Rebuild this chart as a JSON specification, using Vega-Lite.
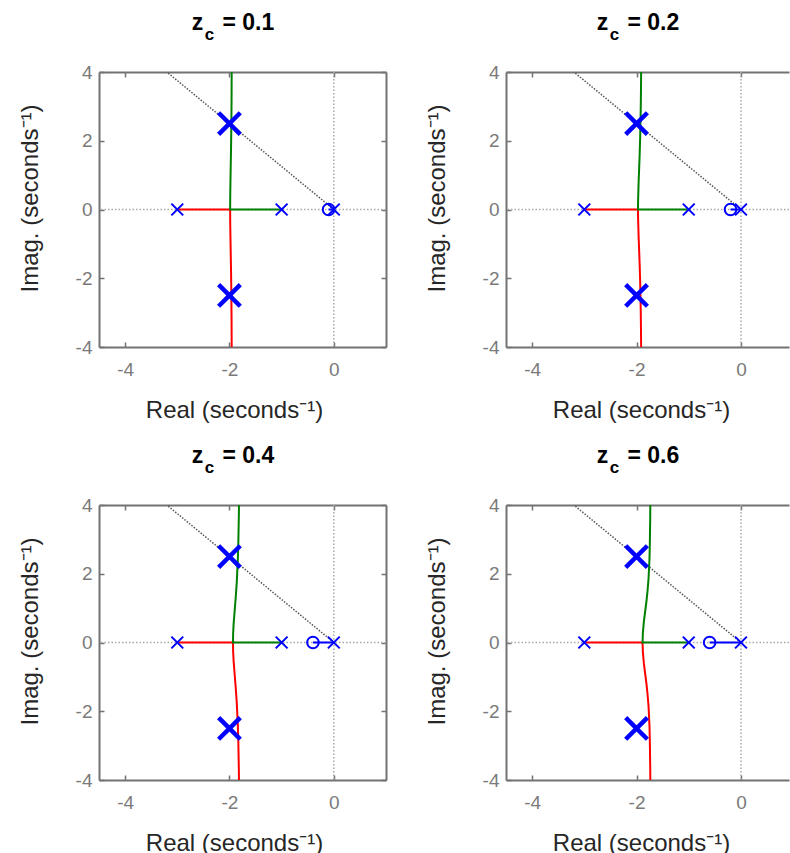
{
  "$schema": "https://vega.github.io/schema/vega-lite/v6.json",
  "padding": {"left": 18, "top": 12, "right": 0, "bottom": 0},
  "background": "white",
  "config": {
    "view": {"stroke": null},
    "font": "Liberation Sans",
    "axis": {
      "labelFont": "Liberation Sans", "labelFontSize": 19, "labelColor": "#7a7a7a",
      "titleFont": "Liberation Sans", "titleFontSize": 24, "titleFontWeight": "normal", "titleColor": "#262626",
      "domainColor": "#737373", "domainWidth": 2, "tickColor": "#737373", "tickWidth": 1.5, "tickSize": -5,
      "grid": false
    },
    "title": {
      "font": "Liberation Sans", "fontSize": 23, "fontWeight": "bold", "color": "#000000",
      "subtitleFont": "Liberation Sans", "subtitleFontSize": 17, "subtitleFontWeight": "bold", "subtitleColor": "#000000",
      "subtitlePadding": -8, "offset": 20, "dx": -9.5
    }
  },
  "datasets": {
    "zero": [{"v": 0}],
    "zeta": [{"o": 0, "x": 0, "y": 0}, {"o": 1, "x": -3.2, "y": 4}],
    "locus": [
      {"p": "0.1", "s": "b3", "o": 0, "x": -3, "y": 0},
      {"p": "0.1", "s": "b3", "o": 1, "x": -1.987, "y": 0},
      {"p": "0.1", "s": "b3", "o": 2, "x": -1.985, "y": -0.42},
      {"p": "0.1", "s": "b3", "o": 3, "x": -1.98, "y": -0.9},
      {"p": "0.1", "s": "b3", "o": 4, "x": -1.97, "y": -1.74},
      {"p": "0.1", "s": "b3", "o": 5, "x": -1.965, "y": -2.29},
      {"p": "0.1", "s": "b3", "o": 6, "x": -1.96, "y": -3.1},
      {"p": "0.1", "s": "b3", "o": 7, "x": -1.955, "y": -4.76},
      {"p": "0.1", "s": "b1", "o": 0, "x": -1, "y": 0},
      {"p": "0.1", "s": "b1", "o": 1, "x": -1.987, "y": 0},
      {"p": "0.1", "s": "b1", "o": 2, "x": -1.985, "y": 0.42},
      {"p": "0.1", "s": "b1", "o": 3, "x": -1.98, "y": 0.9},
      {"p": "0.1", "s": "b1", "o": 4, "x": -1.97, "y": 1.74},
      {"p": "0.1", "s": "b1", "o": 5, "x": -1.965, "y": 2.29},
      {"p": "0.1", "s": "b1", "o": 6, "x": -1.96, "y": 3.1},
      {"p": "0.1", "s": "b1", "o": 7, "x": -1.955, "y": 4.76},
      {"p": "0.1", "s": "b0", "o": 0, "x": 0, "y": 0},
      {"p": "0.1", "s": "b0", "o": 1, "x": -0.1, "y": 0},

      {"p": "0.2", "s": "b3", "o": 0, "x": -3, "y": 0},
      {"p": "0.2", "s": "b3", "o": 1, "x": -1.972, "y": 0},
      {"p": "0.2", "s": "b3", "o": 2, "x": -1.97, "y": -0.26},
      {"p": "0.2", "s": "b3", "o": 3, "x": -1.96, "y": -0.8},
      {"p": "0.2", "s": "b3", "o": 4, "x": -1.95, "y": -1.19},
      {"p": "0.2", "s": "b3", "o": 5, "x": -1.94, "y": -1.6},
      {"p": "0.2", "s": "b3", "o": 6, "x": -1.93, "y": -2.12},
      {"p": "0.2", "s": "b3", "o": 7, "x": -1.92, "y": -2.87},
      {"p": "0.2", "s": "b3", "o": 8, "x": -1.915, "y": -3.46},
      {"p": "0.2", "s": "b3", "o": 9, "x": -1.91, "y": -4.41},
      {"p": "0.2", "s": "b1", "o": 0, "x": -1, "y": 0},
      {"p": "0.2", "s": "b1", "o": 1, "x": -1.972, "y": 0},
      {"p": "0.2", "s": "b1", "o": 2, "x": -1.97, "y": 0.26},
      {"p": "0.2", "s": "b1", "o": 3, "x": -1.96, "y": 0.8},
      {"p": "0.2", "s": "b1", "o": 4, "x": -1.95, "y": 1.19},
      {"p": "0.2", "s": "b1", "o": 5, "x": -1.94, "y": 1.6},
      {"p": "0.2", "s": "b1", "o": 6, "x": -1.93, "y": 2.12},
      {"p": "0.2", "s": "b1", "o": 7, "x": -1.92, "y": 2.87},
      {"p": "0.2", "s": "b1", "o": 8, "x": -1.915, "y": 3.46},
      {"p": "0.2", "s": "b1", "o": 9, "x": -1.91, "y": 4.41},
      {"p": "0.2", "s": "b0", "o": 0, "x": 0, "y": 0},
      {"p": "0.2", "s": "b0", "o": 1, "x": -0.2, "y": 0},

      {"p": "0.4", "s": "b3", "o": 0, "x": -3, "y": 0},
      {"p": "0.4", "s": "b3", "o": 1, "x": -1.932, "y": 0},
      {"p": "0.4", "s": "b3", "o": 2, "x": -1.93, "y": -0.24},
      {"p": "0.4", "s": "b3", "o": 3, "x": -1.92, "y": -0.54},
      {"p": "0.4", "s": "b3", "o": 4, "x": -1.9, "y": -0.93},
      {"p": "0.4", "s": "b3", "o": 5, "x": -1.88, "y": -1.31},
      {"p": "0.4", "s": "b3", "o": 6, "x": -1.86, "y": -1.75},
      {"p": "0.4", "s": "b3", "o": 7, "x": -1.84, "y": -2.39},
      {"p": "0.4", "s": "b3", "o": 8, "x": -1.83, "y": -2.89},
      {"p": "0.4", "s": "b3", "o": 9, "x": -1.82, "y": -3.69},
      {"p": "0.4", "s": "b3", "o": 10, "x": -1.815, "y": -4.34},
      {"p": "0.4", "s": "b1", "o": 0, "x": -1, "y": 0},
      {"p": "0.4", "s": "b1", "o": 1, "x": -1.932, "y": 0},
      {"p": "0.4", "s": "b1", "o": 2, "x": -1.93, "y": 0.24},
      {"p": "0.4", "s": "b1", "o": 3, "x": -1.92, "y": 0.54},
      {"p": "0.4", "s": "b1", "o": 4, "x": -1.9, "y": 0.93},
      {"p": "0.4", "s": "b1", "o": 5, "x": -1.88, "y": 1.31},
      {"p": "0.4", "s": "b1", "o": 6, "x": -1.86, "y": 1.75},
      {"p": "0.4", "s": "b1", "o": 7, "x": -1.84, "y": 2.39},
      {"p": "0.4", "s": "b1", "o": 8, "x": -1.83, "y": 2.89},
      {"p": "0.4", "s": "b1", "o": 9, "x": -1.82, "y": 3.69},
      {"p": "0.4", "s": "b1", "o": 10, "x": -1.815, "y": 4.34},
      {"p": "0.4", "s": "b0", "o": 0, "x": 0, "y": 0},
      {"p": "0.4", "s": "b0", "o": 1, "x": -0.4, "y": 0},

      {"p": "0.6", "s": "b3", "o": 0, "x": -3, "y": 0},
      {"p": "0.6", "s": "b3", "o": 1, "x": -1.885, "y": 0},
      {"p": "0.6", "s": "b3", "o": 2, "x": -1.878, "y": -0.29},
      {"p": "0.6", "s": "b3", "o": 3, "x": -1.86, "y": -0.6},
      {"p": "0.6", "s": "b3", "o": 4, "x": -1.83, "y": -0.96},
      {"p": "0.6", "s": "b3", "o": 5, "x": -1.81, "y": -1.2},
      {"p": "0.6", "s": "b3", "o": 6, "x": -1.79, "y": -1.49},
      {"p": "0.6", "s": "b3", "o": 7, "x": -1.77, "y": -1.86},
      {"p": "0.6", "s": "b3", "o": 8, "x": -1.752, "y": -2.43},
      {"p": "0.6", "s": "b3", "o": 9, "x": -1.745, "y": -2.89},
      {"p": "0.6", "s": "b3", "o": 10, "x": -1.738, "y": -3.63},
      {"p": "0.6", "s": "b3", "o": 11, "x": -1.735, "y": -4.24},
      {"p": "0.6", "s": "b1", "o": 0, "x": -1, "y": 0},
      {"p": "0.6", "s": "b1", "o": 1, "x": -1.885, "y": 0},
      {"p": "0.6", "s": "b1", "o": 2, "x": -1.878, "y": 0.29},
      {"p": "0.6", "s": "b1", "o": 3, "x": -1.86, "y": 0.6},
      {"p": "0.6", "s": "b1", "o": 4, "x": -1.83, "y": 0.96},
      {"p": "0.6", "s": "b1", "o": 5, "x": -1.81, "y": 1.2},
      {"p": "0.6", "s": "b1", "o": 6, "x": -1.79, "y": 1.49},
      {"p": "0.6", "s": "b1", "o": 7, "x": -1.77, "y": 1.86},
      {"p": "0.6", "s": "b1", "o": 8, "x": -1.752, "y": 2.43},
      {"p": "0.6", "s": "b1", "o": 9, "x": -1.745, "y": 2.89},
      {"p": "0.6", "s": "b1", "o": 10, "x": -1.738, "y": 3.63},
      {"p": "0.6", "s": "b1", "o": 11, "x": -1.735, "y": 4.24},
      {"p": "0.6", "s": "b0", "o": 0, "x": 0, "y": 0},
      {"p": "0.6", "s": "b0", "o": 1, "x": -0.6, "y": 0}
    ],
    "marks": [
      {"p": "0.1", "k": "pole", "x": -3, "y": 0}, {"p": "0.1", "k": "pole", "x": -1, "y": 0}, {"p": "0.1", "k": "pole", "x": 0, "y": 0},
      {"p": "0.1", "k": "target", "x": -2, "y": 2.5}, {"p": "0.1", "k": "target", "x": -2, "y": -2.5}, {"p": "0.1", "k": "zero", "x": -0.1, "y": 0},
      {"p": "0.2", "k": "pole", "x": -3, "y": 0}, {"p": "0.2", "k": "pole", "x": -1, "y": 0}, {"p": "0.2", "k": "pole", "x": 0, "y": 0},
      {"p": "0.2", "k": "target", "x": -2, "y": 2.5}, {"p": "0.2", "k": "target", "x": -2, "y": -2.5}, {"p": "0.2", "k": "zero", "x": -0.2, "y": 0},
      {"p": "0.4", "k": "pole", "x": -3, "y": 0}, {"p": "0.4", "k": "pole", "x": -1, "y": 0}, {"p": "0.4", "k": "pole", "x": 0, "y": 0},
      {"p": "0.4", "k": "target", "x": -2, "y": 2.5}, {"p": "0.4", "k": "target", "x": -2, "y": -2.5}, {"p": "0.4", "k": "zero", "x": -0.4, "y": 0},
      {"p": "0.6", "k": "pole", "x": -3, "y": 0}, {"p": "0.6", "k": "pole", "x": -1, "y": 0}, {"p": "0.6", "k": "pole", "x": 0, "y": 0},
      {"p": "0.6", "k": "target", "x": -2, "y": 2.5}, {"p": "0.6", "k": "target", "x": -2, "y": -2.5}, {"p": "0.6", "k": "zero", "x": -0.6, "y": 0}
    ]
  },
  "columns": 2,
  "spacing": {"row": 158, "column": 120},
  "bounds": "flush",
  "concat": [
    {
      "width": 287, "height": 275,
      "title": {"text": "z\u00a0\u00a0\u00a0= 0.1", "subtitle": "c\u00a0\u00a0\u00a0\u00a0\u00a0\u00a0\u00a0\u00a0\u00a0\u00a0\u200b"},
      "resolve": {"axis": {"x": "independent", "y": "independent"}},
      "layer": [
        {"data": {"name": "zero"}, "mark": {"type": "rule", "strokeDash": [1.5, 2], "color": "#a8a8a8", "strokeWidth": 1.5},
         "encoding": {"x": {"field": "v", "type": "quantitative", "scale": {"domain": [-4.5, 1], "nice": false, "zero": false},
           "axis": {"orient": "bottom", "values": [-4, -2, 0], "labelExpr": "'' + datum.value", "labelPadding": 18, "title": "Real (seconds\u207b\u00b9)", "titlePadding": 19, "titleX": 135}}}},
        {"data": {"name": "zero"}, "mark": {"type": "rule", "strokeDash": [1.5, 2], "color": "#a8a8a8", "strokeWidth": 1.5},
         "encoding": {"y": {"field": "v", "type": "quantitative", "scale": {"domain": [-4, 4], "nice": false, "zero": false},
           "axis": {"orient": "left", "values": [-4, -2, 0, 2, 4], "labelExpr": "'' + datum.value", "labelPadding": 12, "title": "Imag. (seconds\u207b\u00b9)", "titlePadding": 33, "titleY": 126}}}},
        {"data": {"name": "zeta"}, "mark": {"type": "line", "strokeDash": [1.5, 1.5], "color": "#555555", "strokeWidth": 1.5, "clip": true},
         "encoding": {"x": {"field": "x", "type": "quantitative", "axis": {"orient": "top", "values": [-4, -2, 0], "labels": false, "title": null}},
           "y": {"field": "y", "type": "quantitative", "axis": {"orient": "right", "values": [-4, -2, 0, 2, 4], "labels": false, "title": null}},
           "order": {"field": "o", "type": "quantitative"}}},
        {"data": {"name": "locus"}, "transform": [{"filter": "datum.p == '0.1'"}], "mark": {"type": "line", "strokeWidth": 2, "clip": true},
         "encoding": {"x": {"field": "x", "type": "quantitative", "axis": null}, "y": {"field": "y", "type": "quantitative", "axis": null},
           "color": {"field": "s", "type": "nominal", "scale": {"domain": ["b3", "b1", "b0"], "range": ["#ff0000", "#008000", "#0000ff"]}, "legend": null},
           "order": {"field": "o", "type": "quantitative"}}},
        {"data": {"name": "marks"}, "transform": [{"filter": "datum.p == '0.1' && datum.k == 'pole'"}],
         "mark": {"type": "point", "shape": "M-1,-1L1,1M-1,1L1,-1", "filled": false, "color": "#0000ff", "strokeWidth": 2, "size": 140, "opacity": 1},
         "encoding": {"x": {"field": "x", "type": "quantitative", "axis": null}, "y": {"field": "y", "type": "quantitative", "axis": null}}},
        {"data": {"name": "marks"}, "transform": [{"filter": "datum.p == '0.1' && datum.k == 'target'"}],
         "mark": {"type": "point", "shape": "M-1,-1L1,1M-1,1L1,-1", "filled": false, "color": "#0000ff", "strokeWidth": 4.5, "size": 470, "opacity": 1},
         "encoding": {"x": {"field": "x", "type": "quantitative", "axis": null}, "y": {"field": "y", "type": "quantitative", "axis": null}}},
        {"data": {"name": "marks"}, "transform": [{"filter": "datum.p == '0.1' && datum.k == 'zero'"}],
         "mark": {"type": "point", "shape": "circle", "filled": false, "color": "#0000ff", "strokeWidth": 2, "size": 135, "opacity": 1},
         "encoding": {"x": {"field": "x", "type": "quantitative", "axis": null}, "y": {"field": "y", "type": "quantitative", "axis": null}}}
      ]
    },
    {
      "width": 283, "height": 275,
      "title": {"text": "z\u00a0\u00a0\u00a0= 0.2", "subtitle": "c\u00a0\u00a0\u00a0\u00a0\u00a0\u00a0\u00a0\u00a0\u00a0\u00a0\u200b"},
      "resolve": {"axis": {"x": "independent", "y": "independent"}},
      "layer": [
        {"data": {"name": "zero"}, "mark": {"type": "rule", "strokeDash": [1.5, 2], "color": "#a8a8a8", "strokeWidth": 1.5},
         "encoding": {"x": {"field": "v", "type": "quantitative", "scale": {"domain": [-4.5, 0.92], "nice": false, "zero": false},
           "axis": {"orient": "bottom", "values": [-4, -2, 0], "labelExpr": "'' + datum.value", "labelPadding": 18, "title": "Real (seconds\u207b\u00b9)", "titlePadding": 19, "titleX": 135}}}},
        {"data": {"name": "zero"}, "mark": {"type": "rule", "strokeDash": [1.5, 2], "color": "#a8a8a8", "strokeWidth": 1.5},
         "encoding": {"y": {"field": "v", "type": "quantitative", "scale": {"domain": [-4, 4], "nice": false, "zero": false},
           "axis": {"orient": "left", "values": [-4, -2, 0, 2, 4], "labelExpr": "'' + datum.value", "labelPadding": 12, "title": "Imag. (seconds\u207b\u00b9)", "titlePadding": 33, "titleY": 126}}}},
        {"data": {"name": "zeta"}, "mark": {"type": "line", "strokeDash": [1.5, 1.5], "color": "#555555", "strokeWidth": 1.5, "clip": true},
         "encoding": {"x": {"field": "x", "type": "quantitative", "axis": {"orient": "top", "values": [-4, -2, 0], "labels": false, "title": null}},
           "y": {"field": "y", "type": "quantitative", "axis": null},
           "order": {"field": "o", "type": "quantitative"}}},
        {"data": {"name": "locus"}, "transform": [{"filter": "datum.p == '0.2'"}], "mark": {"type": "line", "strokeWidth": 2, "clip": true},
         "encoding": {"x": {"field": "x", "type": "quantitative", "axis": null}, "y": {"field": "y", "type": "quantitative", "axis": null},
           "color": {"field": "s", "type": "nominal", "scale": {"domain": ["b3", "b1", "b0"], "range": ["#ff0000", "#008000", "#0000ff"]}, "legend": null},
           "order": {"field": "o", "type": "quantitative"}}},
        {"data": {"name": "marks"}, "transform": [{"filter": "datum.p == '0.2' && datum.k == 'pole'"}],
         "mark": {"type": "point", "shape": "M-1,-1L1,1M-1,1L1,-1", "filled": false, "color": "#0000ff", "strokeWidth": 2, "size": 140, "opacity": 1},
         "encoding": {"x": {"field": "x", "type": "quantitative", "axis": null}, "y": {"field": "y", "type": "quantitative", "axis": null}}},
        {"data": {"name": "marks"}, "transform": [{"filter": "datum.p == '0.2' && datum.k == 'target'"}],
         "mark": {"type": "point", "shape": "M-1,-1L1,1M-1,1L1,-1", "filled": false, "color": "#0000ff", "strokeWidth": 4.5, "size": 470, "opacity": 1},
         "encoding": {"x": {"field": "x", "type": "quantitative", "axis": null}, "y": {"field": "y", "type": "quantitative", "axis": null}}},
        {"data": {"name": "marks"}, "transform": [{"filter": "datum.p == '0.2' && datum.k == 'zero'"}],
         "mark": {"type": "point", "shape": "circle", "filled": false, "color": "#0000ff", "strokeWidth": 2, "size": 135, "opacity": 1},
         "encoding": {"x": {"field": "x", "type": "quantitative", "axis": null}, "y": {"field": "y", "type": "quantitative", "axis": null}}}
      ]
    },
    {
      "width": 287, "height": 275,
      "title": {"text": "z\u00a0\u00a0\u00a0= 0.4", "subtitle": "c\u00a0\u00a0\u00a0\u00a0\u00a0\u00a0\u00a0\u00a0\u00a0\u00a0\u200b"},
      "resolve": {"axis": {"x": "independent", "y": "independent"}},
      "layer": [
        {"data": {"name": "zero"}, "mark": {"type": "rule", "strokeDash": [1.5, 2], "color": "#a8a8a8", "strokeWidth": 1.5},
         "encoding": {"x": {"field": "v", "type": "quantitative", "scale": {"domain": [-4.5, 1], "nice": false, "zero": false},
           "axis": {"orient": "bottom", "values": [-4, -2, 0], "labelExpr": "'' + datum.value", "labelPadding": 18, "title": "Real (seconds\u207b\u00b9)", "titlePadding": 19, "titleX": 135}}}},
        {"data": {"name": "zero"}, "mark": {"type": "rule", "strokeDash": [1.5, 2], "color": "#a8a8a8", "strokeWidth": 1.5},
         "encoding": {"y": {"field": "v", "type": "quantitative", "scale": {"domain": [-4, 4], "nice": false, "zero": false},
           "axis": {"orient": "left", "values": [-4, -2, 0, 2, 4], "labelExpr": "'' + datum.value", "labelPadding": 12, "title": "Imag. (seconds\u207b\u00b9)", "titlePadding": 33, "titleY": 126}}}},
        {"data": {"name": "zeta"}, "mark": {"type": "line", "strokeDash": [1.5, 1.5], "color": "#555555", "strokeWidth": 1.5, "clip": true},
         "encoding": {"x": {"field": "x", "type": "quantitative", "axis": {"orient": "top", "values": [-4, -2, 0], "labels": false, "title": null}},
           "y": {"field": "y", "type": "quantitative", "axis": {"orient": "right", "values": [-4, -2, 0, 2, 4], "labels": false, "title": null}},
           "order": {"field": "o", "type": "quantitative"}}},
        {"data": {"name": "locus"}, "transform": [{"filter": "datum.p == '0.4'"}], "mark": {"type": "line", "strokeWidth": 2, "clip": true},
         "encoding": {"x": {"field": "x", "type": "quantitative", "axis": null}, "y": {"field": "y", "type": "quantitative", "axis": null},
           "color": {"field": "s", "type": "nominal", "scale": {"domain": ["b3", "b1", "b0"], "range": ["#ff0000", "#008000", "#0000ff"]}, "legend": null},
           "order": {"field": "o", "type": "quantitative"}}},
        {"data": {"name": "marks"}, "transform": [{"filter": "datum.p == '0.4' && datum.k == 'pole'"}],
         "mark": {"type": "point", "shape": "M-1,-1L1,1M-1,1L1,-1", "filled": false, "color": "#0000ff", "strokeWidth": 2, "size": 140, "opacity": 1},
         "encoding": {"x": {"field": "x", "type": "quantitative", "axis": null}, "y": {"field": "y", "type": "quantitative", "axis": null}}},
        {"data": {"name": "marks"}, "transform": [{"filter": "datum.p == '0.4' && datum.k == 'target'"}],
         "mark": {"type": "point", "shape": "M-1,-1L1,1M-1,1L1,-1", "filled": false, "color": "#0000ff", "strokeWidth": 4.5, "size": 470, "opacity": 1},
         "encoding": {"x": {"field": "x", "type": "quantitative", "axis": null}, "y": {"field": "y", "type": "quantitative", "axis": null}}},
        {"data": {"name": "marks"}, "transform": [{"filter": "datum.p == '0.4' && datum.k == 'zero'"}],
         "mark": {"type": "point", "shape": "circle", "filled": false, "color": "#0000ff", "strokeWidth": 2, "size": 135, "opacity": 1},
         "encoding": {"x": {"field": "x", "type": "quantitative", "axis": null}, "y": {"field": "y", "type": "quantitative", "axis": null}}}
      ]
    },
    {
      "width": 283, "height": 275,
      "title": {"text": "z\u00a0\u00a0\u00a0= 0.6", "subtitle": "c\u00a0\u00a0\u00a0\u00a0\u00a0\u00a0\u00a0\u00a0\u00a0\u00a0\u200b"},
      "resolve": {"axis": {"x": "independent", "y": "independent"}},
      "layer": [
        {"data": {"name": "zero"}, "mark": {"type": "rule", "strokeDash": [1.5, 2], "color": "#a8a8a8", "strokeWidth": 1.5},
         "encoding": {"x": {"field": "v", "type": "quantitative", "scale": {"domain": [-4.5, 0.92], "nice": false, "zero": false},
           "axis": {"orient": "bottom", "values": [-4, -2, 0], "labelExpr": "'' + datum.value", "labelPadding": 18, "title": "Real (seconds\u207b\u00b9)", "titlePadding": 19, "titleX": 135}}}},
        {"data": {"name": "zero"}, "mark": {"type": "rule", "strokeDash": [1.5, 2], "color": "#a8a8a8", "strokeWidth": 1.5},
         "encoding": {"y": {"field": "v", "type": "quantitative", "scale": {"domain": [-4, 4], "nice": false, "zero": false},
           "axis": {"orient": "left", "values": [-4, -2, 0, 2, 4], "labelExpr": "'' + datum.value", "labelPadding": 12, "title": "Imag. (seconds\u207b\u00b9)", "titlePadding": 33, "titleY": 126}}}},
        {"data": {"name": "zeta"}, "mark": {"type": "line", "strokeDash": [1.5, 1.5], "color": "#555555", "strokeWidth": 1.5, "clip": true},
         "encoding": {"x": {"field": "x", "type": "quantitative", "axis": {"orient": "top", "values": [-4, -2, 0], "labels": false, "title": null}},
           "y": {"field": "y", "type": "quantitative", "axis": null},
           "order": {"field": "o", "type": "quantitative"}}},
        {"data": {"name": "locus"}, "transform": [{"filter": "datum.p == '0.6'"}], "mark": {"type": "line", "strokeWidth": 2, "clip": true},
         "encoding": {"x": {"field": "x", "type": "quantitative", "axis": null}, "y": {"field": "y", "type": "quantitative", "axis": null},
           "color": {"field": "s", "type": "nominal", "scale": {"domain": ["b3", "b1", "b0"], "range": ["#ff0000", "#008000", "#0000ff"]}, "legend": null},
           "order": {"field": "o", "type": "quantitative"}}},
        {"data": {"name": "marks"}, "transform": [{"filter": "datum.p == '0.6' && datum.k == 'pole'"}],
         "mark": {"type": "point", "shape": "M-1,-1L1,1M-1,1L1,-1", "filled": false, "color": "#0000ff", "strokeWidth": 2, "size": 140, "opacity": 1},
         "encoding": {"x": {"field": "x", "type": "quantitative", "axis": null}, "y": {"field": "y", "type": "quantitative", "axis": null}}},
        {"data": {"name": "marks"}, "transform": [{"filter": "datum.p == '0.6' && datum.k == 'target'"}],
         "mark": {"type": "point", "shape": "M-1,-1L1,1M-1,1L1,-1", "filled": false, "color": "#0000ff", "strokeWidth": 4.5, "size": 470, "opacity": 1},
         "encoding": {"x": {"field": "x", "type": "quantitative", "axis": null}, "y": {"field": "y", "type": "quantitative", "axis": null}}},
        {"data": {"name": "marks"}, "transform": [{"filter": "datum.p == '0.6' && datum.k == 'zero'"}],
         "mark": {"type": "point", "shape": "circle", "filled": false, "color": "#0000ff", "strokeWidth": 2, "size": 135, "opacity": 1},
         "encoding": {"x": {"field": "x", "type": "quantitative", "axis": null}, "y": {"field": "y", "type": "quantitative", "axis": null}}}
      ]
    }
  ]
}
